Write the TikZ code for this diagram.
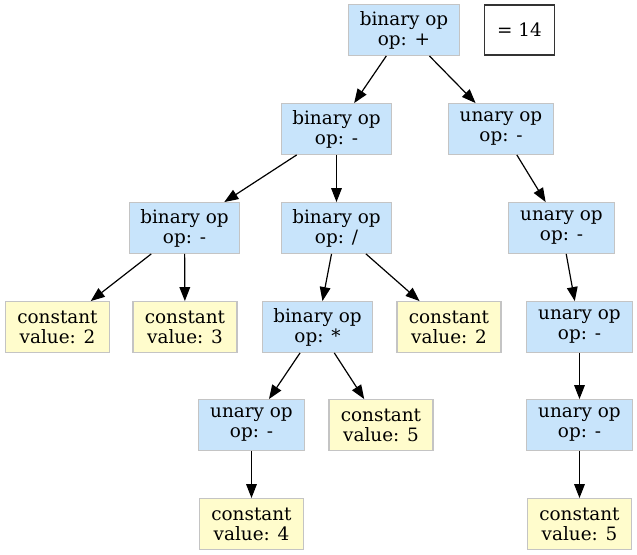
\documentclass[tikz,border=0pt]{standalone}
\usepackage{fontspec}
\setmainfont{DejaVu Serif}
\usetikzlibrary{arrows.meta}
\definecolor{opblue}{HTML}{C8E4FB}
\definecolor{cyellow}{HTML}{FFFCCC}
\definecolor{bgray}{HTML}{C4C4C4}
\tikzset{
  box/.style={draw=bgray, line width=0.9pt, minimum height=38pt, inner sep=0pt, align=center, font=\fontsize{13.8}{15}\selectfont},
  opbox/.style={box, fill=opblue},
  binbox/.style={opbox, minimum width=83pt},
  unbox/.style={opbox, minimum width=79pt},
  cbox/.style={box, fill=cyellow, minimum width=78pt},
  resbox/.style={draw=black!80, line width=0.9pt, minimum width=53pt, minimum height=37.5pt, inner sep=0pt, font=\fontsize{13.8}{15}\selectfont},
  edge/.style={-{Triangle[length=10.5pt,width=8pt]}, line width=0.9pt, black}
}
\begin{document}
\begin{tikzpicture}[x=0.75pt, y=-0.75pt]
\useasboundingbox (0,0) rectangle (637,555);
\node[binbox] (root) at (404,30) {binary op\\op: +};
\node[resbox] (res) at (519.5,30) {= 14};
\node[binbox] (b1) at (336.5,129) {binary op\\op: -};
\node[unbox] (u1) at (501,129) {unary op\\op: -};
\node[binbox] (b2) at (184.5,228) {binary op\\op: -};
\node[binbox] (b3) at (336.5,228) {binary op\\op: /};
\node[unbox] (u2) at (561.5,228) {unary op\\op: -};
\node[cbox] (c2) at (57.5,327) {constant\\value: 2};
\node[cbox] (c3) at (185,327) {constant\\value: 3};
\node[binbox] (b4) at (317.5,327) {binary op\\op: *};
\node[cbox] (c2b) at (449,327) {constant\\value: 2};
\node[unbox] (u3) at (579.5,327) {unary op\\op: -};
\node[unbox] (u4) at (251.5,425) {unary op\\op: -};
\node[cbox] (c5) at (381,425) {constant\\value: 5};
\node[unbox] (u5) at (579.5,425) {unary op\\op: -};
\node[cbox] (c4) at (251.5,524) {constant\\value: 4};
\node[cbox] (c5b) at (579.5,524) {constant\\value: 5};
\draw[edge] (root) -- (b1);
\draw[edge] (root) -- (u1);
\draw[edge] (b1) -- (b2);
\draw[edge] (b1) -- (b3);
\draw[edge] (u1) -- (u2);
\draw[edge] (b2) -- (c2);
\draw[edge] (b2) -- (c3);
\draw[edge] (b3) -- (b4);
\draw[edge] (b3) -- (c2b);
\draw[edge] (u2) -- (u3);
\draw[edge] (b4) -- (u4);
\draw[edge] (b4) -- (c5);
\draw[edge] (u3) -- (u5);
\draw[edge] (u4) -- (c4);
\draw[edge] (u5) -- (c5b);
\end{tikzpicture}
\end{document}
